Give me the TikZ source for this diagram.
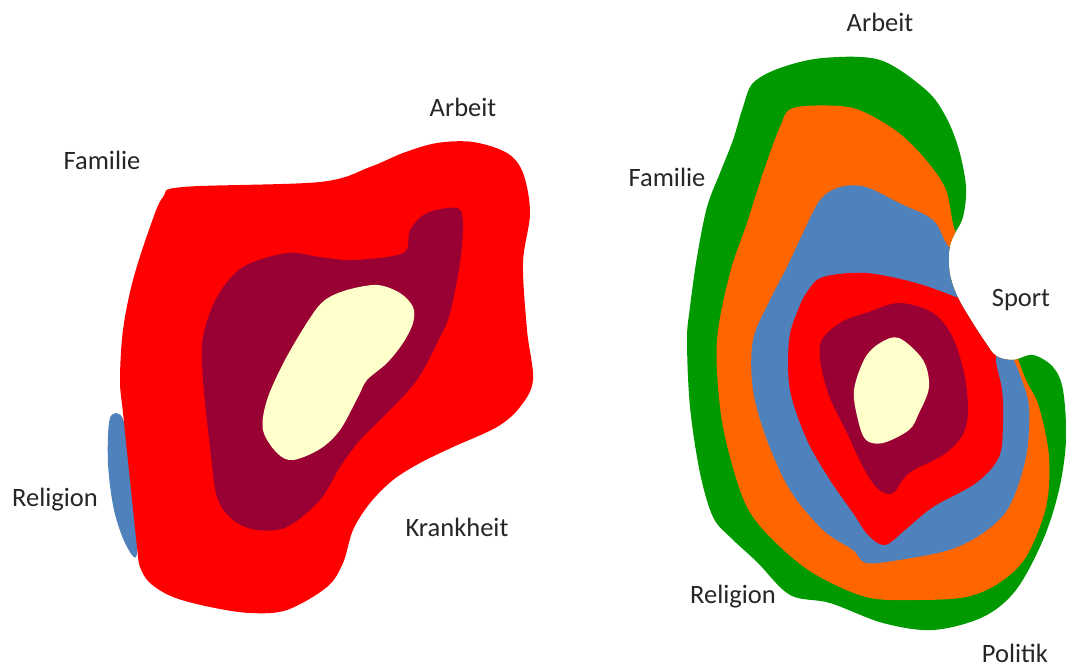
\documentclass[tikz,border=0pt]{standalone}
\usepackage{fontspec}
\setmainfont{Carlito}

\definecolor{ringgreen}{RGB}{0,153,0}
\definecolor{ringorange}{RGB}{255,102,0}
\definecolor{ringblue}{RGB}{79,129,189}
\definecolor{ringred}{RGB}{255,0,0}
\definecolor{ringmaroon}{RGB}{153,0,51}
\definecolor{ringcream}{RGB}{255,255,204}

\tikzset{
  blob/.style={smooth cycle, tension=0.55},
  area/.style={text=black!85, font=\fontsize{26.5}{30}\selectfont, inner sep=1pt}
}

\begin{document}
\begin{tikzpicture}[x=1pt, y=-1pt, line join=round]

  \useasboundingbox[fill=white] (0,0) rectangle (1066,668);

  % Left figure: blue rim behind the red area
  \fill[ringblue] plot[blob] coordinates {(110,418) (123,419) (131,470) (137,553) (126,545) (114,510) (108,463)};

  % Outer red area
  \fill[ringred] plot[blob] coordinates {
    (183,187) (320,182) (370,167) (403,153) (437,143) (473,142) (507,153) (523,173)
    (530,213) (523,263) (527,330) (533,380) (520,407) (497,427) (453,447) (420,463)
    (393,480) (370,503) (353,530) (343,563) (327,587) (287,610) (250,613) (210,607)
    (173,597) (150,583) (140,567) (137,547) (130,480) (123,413) (120,380) (123,330)
    (133,280) (150,227) (163,197)};

  % Inner maroon ring
  \fill[ringmaroon] plot[blob] coordinates {
    (203,337) (217,297) (243,267) (287,253) (320,257) (353,260) (403,253) (410,230)
    (427,213) (457,208) (463,223) (460,263) (450,313) (440,337) (417,380) (387,413)
    (360,440) (340,467) (320,500) (287,527) (257,530) (233,520) (217,497) (210,447)
    (203,380)};

  % Core
  \fill[ringcream] plot[blob] coordinates {
    (347,290) (377,285) (400,293) (413,307) (413,323) (403,343) (387,363) (367,380)
    (358,397) (340,430) (320,449) (293,460) (277,453) (263,430) (267,400) (285,360)
    (310,318) (325,300)};

  % Right figure, clipped to the green outline
  \begin{scope}
    \clip plot[blob] coordinates {
      (823,58) (880,60) (926,90) (946,117) (959,150) (966,187) (963,217) (953,237)
      (949,252) (950,275) (958,298) (972,322) (985,342) (996,356) (1013,360) (1033,355)
      (1053,367) (1063,390) (1066,440) (1059,490) (1043,540) (1016,590) (983,617)
      (933,630) (883,623) (830,603) (790,595) (757,562) (730,537) (713,517) (700,473)
      (690,407) (687,340) (690,307) (697,257) (707,207) (720,173) (733,140) (743,107)
      (753,83) (780,68)};
    \fill[ringgreen] (680,40) rectangle (1066,640);

    % Orange band
    \fill[ringorange] plot[blob] coordinates {
      (793,108) (840,106) (866,113) (899,133) (926,160) (946,190) (956,233) (980,262)
      (1005,318) (1017,356) (1026,380) (1039,407) (1049,457) (1046,507) (1026,557)
      (999,583) (966,597) (916,600) (866,597) (813,573) (773,540) (747,507) (730,457)
      (720,407) (717,340) (730,273) (747,223) (763,173) (780,127)};

    % Blue band
    \fill[ringblue] plot[blob] coordinates {
      (840,187) (866,187) (899,203) (933,220) (949,247) (975,262) (1000,310) (1010,350)
      (1020,375) (1029,407) (1026,457) (1009,507) (983,533) (949,550) (899,560)
      (866,563) (853,550) (823,530) (790,490) (767,440) (753,390) (753,340) (770,300)
      (787,267) (803,233) (820,200)};

    % Red band
    \fill[ringred] plot[blob] coordinates {
      (823,277) (866,273) (916,283) (956,297) (980,306) (996,338) (996,362) (1002,390)
      (1003,423) (999,457) (976,483) (933,507) (905,530) (885,545) (868,535) (853,513)
      (830,480) (807,440) (790,390) (789,340) (798,310) (807,292)};

    % Maroon ring
    \fill[ringmaroon] plot[blob] coordinates {
      (840,323) (866,313) (899,303) (933,313) (953,338) (966,383) (966,427) (946,453)
      (909,473) (893,493) (878,489) (863,467) (847,433) (827,390) (820,345)};

    % Core
    \fill[ringcream] plot[blob] coordinates {
      (899,338) (923,360) (929,387) (919,413) (909,430) (883,443) (866,440) (858,420)
      (854,390) (865,358) (880,343)};
  \end{scope}

  % Area labels, left
  \node[area] (familieL) at (102,160) {Familie};
  \node[area] (arbeitL) at (463,107) {Arbeit};
  \node[area] (religionL) at (55,500) {Religion};
  \node[area] (krankheit) at (457,527) {Krankheit};

  % Area labels, right
  \node[area] (arbeitR) at (880,22) {Arbeit};
  \node[area] (familieR) at (667,177) {Familie};
  \node[area] (sport) at (1021,300) {Sport};
  \node[area] (religionR) at (733,597) {Religion};
  \node[area] (politik) at (1015,653) {Politik};

\end{tikzpicture}
\end{document}
